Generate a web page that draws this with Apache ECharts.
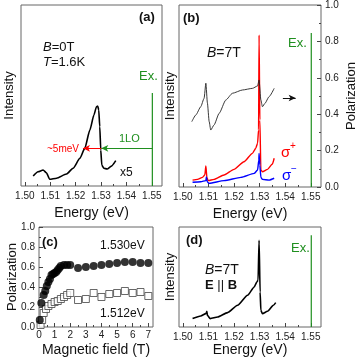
<!DOCTYPE html>
<html>
<head>
<meta charset="utf-8">
<script src="https://cdn.jsdelivr.net/npm/echarts@6/dist/echarts.min.js"></script>
<style>
  html, body { margin: 0; padding: 0; background: #fff; }
  #chart { width: 357px; height: 360px; }
</style>
</head>
<body>
<div id="chart"></div>
<script>
  // tick values
  const energyTicks = [1.50, 1.51, 1.52, 1.53, 1.54, 1.55];
  const energyMinor = [1.505, 1.515, 1.525, 1.535, 1.545];
  const polStep = 0.2;
  const fieldTicks = [0, 1, 2, 3, 4, 5, 6, 7];
  const fieldMinor = [0.5, 1.5, 2.5, 3.5, 4.5, 5.5, 6.5];

  // (a) B=0T spectrum (x5)
  const specAEnergy = [1.5033, 1.5052, 1.5072, 1.5085, 1.5098, 1.5125, 1.5164, 1.5190, 1.5217, 1.5236, 1.5256, 1.5272, 1.5282, 1.5287, 1.5291, 1.5295, 1.5299, 1.5303, 1.5311, 1.5324, 1.5341, 1.5358];
  const specAIntensity = [0.055, 0.079, 0.088, 0.073, 0.037, 0.043, 0.066, 0.098, 0.153, 0.208, 0.309, 0.392, 0.438, 0.442, 0.420, 0.328, 0.199, 0.116, 0.098, 0.094, 0.110, 0.140];
  const laserEnergy = 1.5502;
  const exTopA = 0.514;
  const arrowLevelA = 0.208;
  const lo1End = 1.5301;
  const shiftEnd = 1.5229;

  // (b) B=7T polarization, sigma+ and sigma- spectra
  const polEnergy = [1.5035, 1.5051, 1.5070, 1.5083, 1.5090, 1.5096, 1.5103, 1.5109, 1.5122, 1.5142, 1.5168, 1.5194, 1.5233, 1.5272, 1.5292, 1.5298, 1.5305, 1.5311, 1.5321, 1.5337, 1.5357];
  const polValue = [0.359, 0.396, 0.441, 0.487, 0.570, 0.462, 0.359, 0.313, 0.341, 0.405, 0.478, 0.515, 0.533, 0.542, 0.555, 0.588, 0.478, 0.441, 0.460, 0.496, 0.542];
  const sigPlusEnergy = [1.5038, 1.5057, 1.5077, 1.5086, 1.5090, 1.5094, 1.5099, 1.5122, 1.5161, 1.5200, 1.5239, 1.5272, 1.5285, 1.5292, 1.5296, 1.5298, 1.5301, 1.5305, 1.5311, 1.5331, 1.5350, 1.5357];
  const sigPlusValue = [0.038, 0.042, 0.053, 0.066, 0.115, 0.053, 0.035, 0.042, 0.066, 0.097, 0.139, 0.185, 0.213, 0.240, 0.313, 0.835, 0.368, 0.093, 0.084, 0.097, 0.126, 0.158];
  const sigMinusEnergy = [1.5038, 1.5070, 1.5090, 1.5092, 1.5096, 1.5103, 1.5161, 1.5227, 1.5279, 1.5292, 1.5297, 1.5298, 1.5301, 1.5305, 1.5311, 1.5337, 1.5357];
  const sigMinusValue = [0.026, 0.029, 0.035, 0.055, 0.027, 0.020, 0.035, 0.053, 0.075, 0.093, 0.148, 0.185, 0.121, 0.053, 0.042, 0.038, 0.048];
  const exTopB = 0.846;
  const polArrowFrom = 1.5391;
  const polArrowTo = 1.5441;
  const polArrowLevel = 0.489;

  // (c) polarization vs field
  const field1530 = [0.05, 0.15, 0.3, 0.4, 0.5, 0.6, 0.7, 0.8, 0.9, 1.0, 1.1, 1.2, 1.3, 1.4, 1.6, 1.8, 2.0, 2.5, 3.0, 3.5, 4.0, 4.5, 5.0, 5.5, 6.0, 6.5, 7.0];
  const pol1530 = [0.07, 0.24, 0.32, 0.36, 0.41, 0.45, 0.48, 0.52, 0.53, 0.54, 0.55, 0.57, 0.59, 0.61, 0.62, 0.62, 0.62, 0.59, 0.60, 0.61, 0.62, 0.63, 0.64, 0.65, 0.65, 0.64, 0.64];
  const field1512 = [0.1, 0.2, 0.3, 0.45, 0.6, 0.8, 1.0, 1.2, 1.4, 1.6, 1.8, 2.0, 2.5, 3.0, 3.5, 4.0, 4.5, 5.0, 5.5, 6.0, 6.5, 7.0];
  const pol1512 = [0.02, 0.07, 0.14, 0.18, 0.21, 0.23, 0.25, 0.26, 0.28, 0.30, 0.32, 0.34, 0.27, 0.28, 0.34, 0.30, 0.33, 0.34, 0.36, 0.34, 0.35, 0.31];

  // (d) B=7T, E || B
  const specDEnergy = [1.5038, 1.5070, 1.5090, 1.5094, 1.5096, 1.5107, 1.5136, 1.5175, 1.5214, 1.5253, 1.5279, 1.5289, 1.5294, 1.5298, 1.5302, 1.5305, 1.5311, 1.5331, 1.5354, 1.5363];
  const specDIntensity = [0.084, 0.110, 0.134, 0.157, 0.117, 0.084, 0.100, 0.144, 0.217, 0.317, 0.400, 0.450, 0.467, 0.867, 0.350, 0.167, 0.134, 0.157, 0.217, 0.244];
  const exTopD = 0.917;

  const FONT = 'Liberation Sans, Arial, sans-serif';
  const GREEN = '#1f8f1f';
  const zip = (xs, ys) => xs.map((x, i) => [x, ys[i]]);

  const labelStyle = (extra) => Object.assign({
    fontSize: 10, color: '#222', fontFamily: FONT, showMinLabel: true, showMaxLabel: true,
  }, extra);

  const energyAxis = (gridIndex, major) => ({
    type: 'value', gridIndex, position: 'bottom', min: 1.4985, max: 1.554,
    axisLine: { show: false, onZero: false },
    splitLine: { show: false },
    axisTick: major
      ? { inside: true, length: 4, customValues: energyTicks, lineStyle: { color: '#444' } }
      : { inside: true, length: 2, customValues: energyMinor, lineStyle: { color: '#444' } },
    axisLabel: major
      ? labelStyle({ customValues: energyTicks, formatter: (v) => v.toFixed(2), margin: 5 })
      : { show: false },
    name: major ? 'Energy (eV)' : '',
    nameLocation: 'middle',
    nameGap: 15,
    nameTextStyle: { fontSize: 14, color: '#111', fontFamily: FONT },
  });

  const hiddenY = (gridIndex, name, gap) => ({
    type: 'value', gridIndex, position: 'left', min: 0, max: 1,
    axisLine: { show: false, onZero: false },
    axisTick: { show: false },
    axisLabel: { show: false },
    splitLine: { show: false },
    name,
    nameLocation: 'middle',
    nameGap: gap,
    nameTextStyle: { fontSize: 13, color: '#111', fontFamily: FONT },
  });

  const polAxis = (gridIndex, position, name, gap) => ({
    type: 'value', gridIndex, position, min: 0, max: 1, interval: polStep,
    axisLine: { show: false, onZero: false },
    splitLine: { show: false },
    minorSplitLine: { show: false },
    axisTick: { inside: true, length: 4, lineStyle: { color: '#444' } },
    minorTick: { show: true, splitNumber: 2, length: 2, lineStyle: { color: '#444' } },
    axisLabel: labelStyle({ formatter: (v) => v.toFixed(1), margin: 4, hideOverlap: false }),
    name,
    nameLocation: 'middle',
    nameGap: gap,
    nameMoveOverlap: false,
    nameTextStyle: { fontSize: 13, color: '#111', fontFamily: FONT },
  });

  const fieldAxis = (major) => ({
    type: 'value', gridIndex: 2, position: 'bottom', min: 0, max: 7.3,
    axisLine: { show: false, onZero: false },
    splitLine: { show: false },
    axisTick: major
      ? { inside: true, length: 4, customValues: fieldTicks, lineStyle: { color: '#444' } }
      : { inside: true, length: 2, customValues: fieldMinor, lineStyle: { color: '#444' } },
    axisLabel: major
      ? labelStyle({ customValues: fieldTicks, margin: 3 })
      : { show: false },
    name: major ? 'Magnetic field (T)' : '',
    nameLocation: 'middle',
    nameGap: 16,
    nameTextStyle: { fontSize: 14, color: '#111', fontFamily: FONT },
  });

  const gridBox = (left, top, width, height) => ({
    left, top, width, height, show: true, borderColor: '#666', borderWidth: 1, backgroundColor: 'transparent',
    containLabel: false, outerBoundsMode: 'none',
  });

  const curve = (xi, yi, xs, ys, color, width) => ({
    type: 'line', xAxisIndex: xi, yAxisIndex: yi, data: zip(xs, ys),
    showSymbol: false, symbol: 'none', smooth: 0.2, smoothMonotone: 'x',
    lineStyle: { color, width }, silent: true,
  });

  const exLine = (xi, yi, top) => ({
    type: 'line', xAxisIndex: xi, yAxisIndex: yi,
    data: [[laserEnergy, 0], [laserEnergy, top]],
    symbol: 'none', lineStyle: { color: GREEN, width: 1.2 }, silent: true,
  });

  const txt = (x, y, text, size, color, extra) => ({
    type: 'text', x, y, silent: true,
    style: Object.assign({
      text, fill: color || '#111', fontSize: size, fontFamily: FONT,
      textAlign: 'left', textVerticalAlign: 'middle',
    }, extra || {}),
  });

  const richBase = (size) => ({
    n: { fontSize: size, fontFamily: FONT, color: '#111' },
    i: { fontSize: size, fontFamily: FONT, color: '#111', fontStyle: 'italic' },
    b: { fontSize: size, fontFamily: FONT, color: '#111', fontWeight: 'bold' },
  });

  const chart = echarts.init(document.getElementById('chart'), null, { renderer: 'canvas' });

  const option = {
    animation: false,
    backgroundColor: '#fff',
    grid: [
      gridBox(21, 5, 141, 181),
      gridBox(179, 5, 142, 182),
      gridBox(39, 227, 114, 100),
      gridBox(179, 227, 142, 100),
    ],
    xAxis: [
      energyAxis(0, true), energyAxis(0, false),
      energyAxis(1, true), energyAxis(1, false),
      fieldAxis(true), fieldAxis(false),
      energyAxis(3, true), energyAxis(3, false),
    ],
    yAxis: [
      hiddenY(0, 'Intensity', 5),
      hiddenY(1, 'Intensity', 2),
      polAxis(1, 'right', 'Polarization', 24),
      polAxis(2, 'left', 'Polarization', 20),
      hiddenY(3, 'Intensity', 2),
    ],
    series: [
      // (a)
      curve(0, 0, specAEnergy, specAIntensity, '#000', 1.6),
      Object.assign(exLine(0, 0, exTopA), {
        markLine: {
          silent: true, symbol: ['none', 'arrow'], symbolSize: [5, 7],
          label: { show: false },
          emphasis: { disabled: true },
          data: [
            [{ coord: [laserEnergy, arrowLevelA], lineStyle: { color: GREEN, width: 1, type: 'solid' } }, { coord: [lo1End, arrowLevelA] }],
            [{ coord: [lo1End, arrowLevelA], lineStyle: { color: '#ff0000', width: 1, type: 'solid' } }, { coord: [shiftEnd, arrowLevelA] }],
          ],
        },
      }),
      // (b)
      curve(2, 2, sigPlusEnergy, sigPlusValue, '#ff0000', 1.4),
      curve(2, 2, sigMinusEnergy, sigMinusValue, '#0000ff', 1.4),
      Object.assign(curve(2, 2, polEnergy, polValue, '#222', 0.9), {
        markLine: {
          silent: true, symbol: ['none', 'arrow'], symbolSize: [5, 7],
          label: { show: false },
          emphasis: { disabled: true },
          lineStyle: { color: '#111', width: 1, type: 'solid' },
          data: [[{ coord: [polArrowFrom, polArrowLevel] }, { coord: [polArrowTo, polArrowLevel] }]],
        },
      }),
      exLine(2, 2, exTopB),
      // (c)
      {
        type: 'scatter', xAxisIndex: 4, yAxisIndex: 3, data: zip(field1512, pol1512),
        symbol: 'rect', symbolSize: 7, silent: true,
        itemStyle: { color: '#fff', borderColor: '#444', borderWidth: 1 },
      },
      {
        type: 'scatter', xAxisIndex: 4, yAxisIndex: 3, data: zip(field1530, pol1530),
        symbol: 'circle', symbolSize: 8, silent: true,
        itemStyle: { color: '#000' },
      },
      // (d)
      curve(6, 4, specDEnergy, specDIntensity, '#000', 1.6),
      exLine(6, 4, exTopD),
    ],
    graphic: [
      txt(139, 17, '(a)', 13, '#111', { fontWeight: 'bold' }),
      txt(43, 47, '{i|B}{n|=0T}', 13, '#111', { rich: richBase(13) }),
      txt(43, 62, '{i|T}{n|=1.6K}', 13, '#111', { rich: richBase(13) }),
      txt(139, 76, 'Ex.', 13, GREEN),
      txt(119, 139, '1LO', 11, GREEN),
      txt(47, 149, '~5meV', 10, '#ff0000'),
      txt(120, 173, 'x5', 12),
      txt(183, 18, '(b)', 13, '#111', { fontWeight: 'bold' }),
      txt(207, 53, '{i|B}{n|=7T}', 14, '#111', { rich: richBase(14) }),
      txt(288, 43, 'Ex.', 13, GREEN),
      txt(281, 153, 'σ', 15, '#ff0000'),
      txt(290, 146, '+', 10, '#ff0000'),
      txt(282, 176, 'σ', 15, '#0000ff'),
      txt(291, 169, '−', 10, '#0000ff'),
      txt(42, 242, '(c)', 13, '#111', { fontWeight: 'bold' }),
      txt(100, 246, '1.530eV', 12),
      txt(100, 314, '1.512eV', 12),
      txt(186, 240, '(d)', 13, '#111', { fontWeight: 'bold' }),
      txt(205, 270, '{i|B}{n|=7T}', 14, '#111', { rich: richBase(14) }),
      txt(205, 285, '{b|E}{n| || }{b|B}', 13, '#111', { rich: richBase(13) }),
      txt(291, 248, 'Ex.', 13, GREEN),
    ],
  };

  chart.setOption(option);
</script>
</body>
</html>
